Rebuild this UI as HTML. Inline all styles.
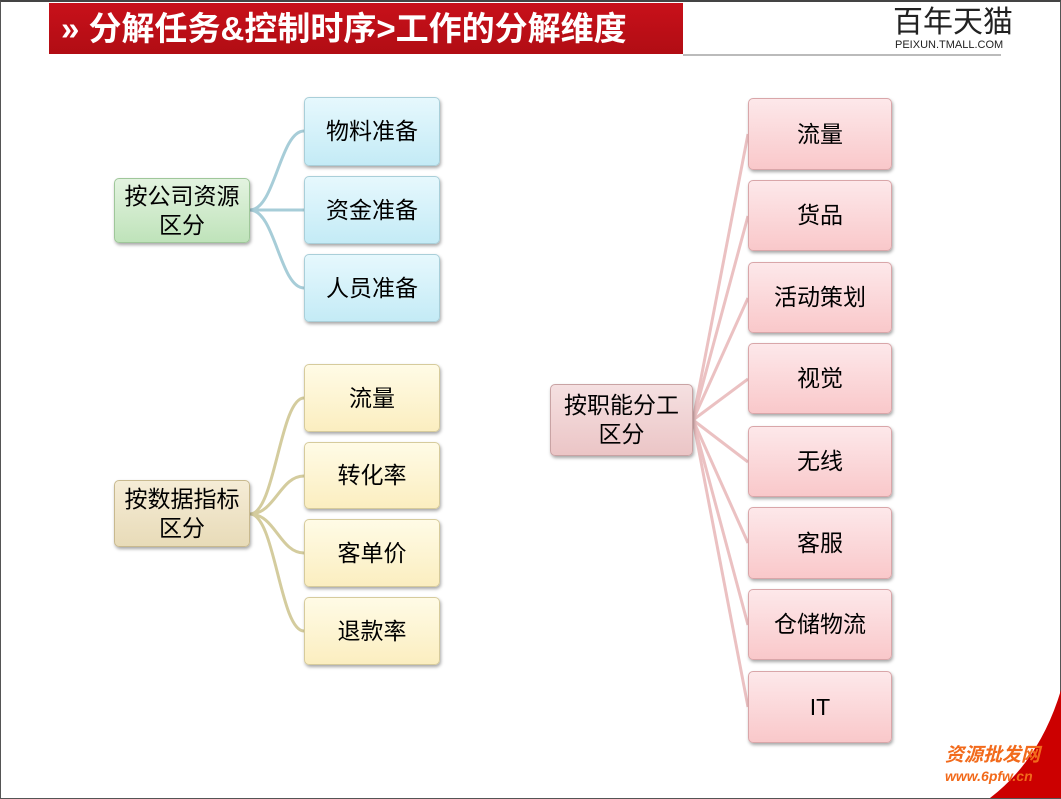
<!DOCTYPE html>
<html><head><meta charset="utf-8"><style>
body{margin:0;width:1061px;height:798px;background:#fff;position:relative;overflow:hidden;font-family:"Liberation Sans","Noto Sans CJK SC",sans-serif}
.frame{position:absolute;left:0;top:0;width:1059px;height:796px;border:1px solid #555;border-top:2px solid #444}
.hdr{position:absolute;left:49px;top:3px;width:634px;height:51px;background:linear-gradient(#c8101a,#b10d14);color:#fff;font-weight:bold;font-size:33px;line-height:51px;box-sizing:border-box;padding-left:12px;white-space:nowrap}
.gl{position:absolute;left:683px;top:54px;width:318px;height:2px;background:#bbb}
.logo{position:absolute;left:893px;top:6px;font-size:30px;line-height:34px;color:#222;letter-spacing:0px}
.logo2{position:absolute;left:895px;top:39px;font-size:11px;line-height:12px;color:#222}
.n{position:absolute;box-sizing:border-box;border-radius:5px;display:flex;align-items:center;justify-content:center;text-align:center;font-size:23px;color:#000;line-height:29px;box-shadow:1px 2px 3px rgba(0,0,0,.35)}
.b{background:linear-gradient(#e6f8fd,#c4ebf6);border:1px solid #a9cfd9}
.g{background:linear-gradient(#e3f3e0,#bfe3ba);border:1px solid #9fc79a}
.y{background:linear-gradient(#fffbe6,#fbeec0);border:1px solid #d6cb9c}
.t{background:linear-gradient(#f5ecd6,#e8dbb8);border:1px solid #c8b98f}
.p{background:linear-gradient(#fde8ea,#f9c8ca);border:1px solid #d9a6a9}
.pp{background:linear-gradient(#f5e0e1,#ebc5c6);border:1px solid #c9a3a4}
.wm{position:absolute;left:945px;top:740px;color:#f26a1b;font-size:19px;font-weight:bold;font-style:italic}
.wm2{position:absolute;left:945px;top:768px;color:#f26a1b;font-size:14px;font-weight:bold;font-style:italic}
</style></head><body>
<div class="frame"></div>
<svg style="position:absolute;left:0;top:0" width="1061" height="798">
<path d="M990 798 Q1040 760 1061 690 L1061 798Z" fill="#c00"/>
<g fill="none" stroke="#a7cdd8" stroke-width="3">
<path d="M250 210 C275 210 280 131 304 131"/><path d="M250 210 L304 210"/><path d="M250 210 C275 210 280 288 304 288"/></g>
<g fill="none" stroke="#d4cc9e" stroke-width="3">
<path d="M250 514 C275 514 280 398 304 398"/><path d="M250 514 C275 514 280 476 304 476"/><path d="M250 514 C275 514 280 553 304 553"/><path d="M250 514 C275 514 280 631 304 631"/></g>
<g fill="none" stroke="#ebc1c2" stroke-width="3">
<path d="M693 420 L748 134"/><path d="M693 420 L748 216"/><path d="M693 420 L748 298"/><path d="M693 420 L748 379"/><path d="M693 420 L748 462"/><path d="M693 420 L748 543"/><path d="M693 420 L748 625"/><path d="M693 420 L748 707"/></g>
</svg>
<div class="hdr">» 分解任务&amp;控制时序&gt;工作的分解维度</div>
<div class="gl"></div>
<div class="logo">百年天猫</div>
<div class="logo2">PEIXUN.TMALL.COM</div>

<div class="n g" style="left:114px;top:178px;width:136px;height:65px">按公司资源<br>区分</div>
<div class="n b" style="left:304px;top:97px;width:136px;height:69px">物料准备</div>
<div class="n b" style="left:304px;top:176px;width:136px;height:68px">资金准备</div>
<div class="n b" style="left:304px;top:254px;width:136px;height:68px">人员准备</div>

<div class="n t" style="left:114px;top:480px;width:136px;height:67px">按数据指标<br>区分</div>
<div class="n y" style="left:304px;top:364px;width:136px;height:68px">流量</div>
<div class="n y" style="left:304px;top:442px;width:136px;height:67px">转化率</div>
<div class="n y" style="left:304px;top:519px;width:136px;height:68px">客单价</div>
<div class="n y" style="left:304px;top:597px;width:136px;height:68px">退款率</div>

<div class="n pp" style="left:550px;top:384px;width:143px;height:72px">按职能分工<br>区分</div>
<div class="n p" style="left:748px;top:98px;width:144px;height:72px">流量</div>
<div class="n p" style="left:748px;top:180px;width:144px;height:71px">货品</div>
<div class="n p" style="left:748px;top:262px;width:144px;height:71px">活动策划</div>
<div class="n p" style="left:748px;top:343px;width:144px;height:71px">视觉</div>
<div class="n p" style="left:748px;top:426px;width:144px;height:71px">无线</div>
<div class="n p" style="left:748px;top:507px;width:144px;height:72px">客服</div>
<div class="n p" style="left:748px;top:589px;width:144px;height:71px">仓储物流</div>
<div class="n p" style="left:748px;top:671px;width:144px;height:72px">IT</div>
<div class="wm">资源批发网</div>
<div class="wm2">www.6pfw.cn</div>
</body></html>
